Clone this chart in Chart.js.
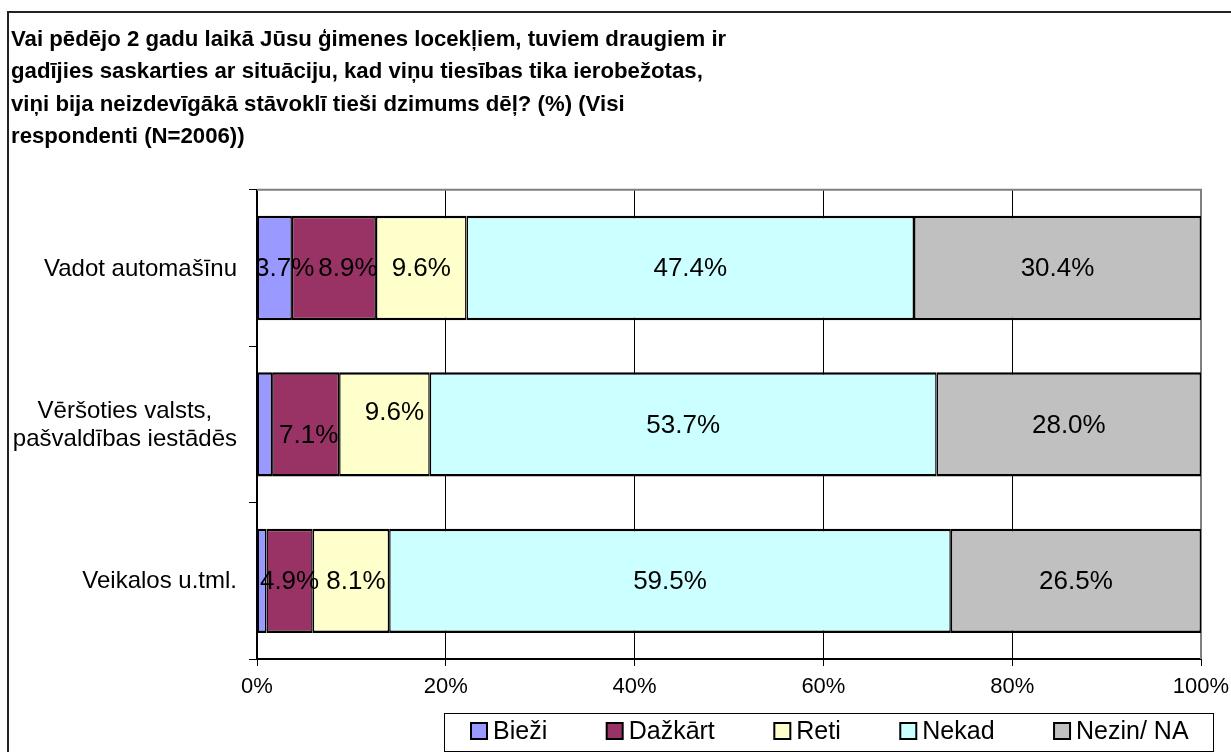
<!DOCTYPE html>
<html>
<head>
<meta charset="utf-8">
<script src="https://cdn.jsdelivr.net/npm/chart.js@4.4.1/dist/chart.umd.min.js"></script>
<style>
  html, body { margin: 0; padding: 0; background: #fff; }
  canvas { display: block; }
</style>
</head>
<body>
<canvas id="chart" width="1231" height="752"></canvas>
<script>
// Survey question (title lines)
const titleLines = [
  'Vai pēdējo 2 gadu laikā Jūsu ģimenes locekļiem, tuviem draugiem ir',
  'gadījies saskarties ar situāciju, kad viņu tiesības tika ierobežotas,',
  'viņi bija neizdevīgākā stāvoklī tieši dzimums dēļ? (%) (Visi',
  'respondenti (N=2006))'
];

// Situations (rows, top to bottom)
const categories = [
  ['Vadot automašīnu'],
  ['Vēršoties valsts,', 'pašvaldības iestādēs'],
  ['Veikalos u.tml.']
];

// Answer options
const seriesNames = ['Bieži', 'Dažkārt', 'Reti', 'Nekad', 'Nezin/ NA'];

// Shares, % of respondents
const biezi   = [3.7, 1.6, 1.0];
const dazkart = [8.9, 7.1, 4.9];
const reti    = [9.6, 9.6, 8.1];
const nekad   = [47.4, 53.7, 59.5];
const nezin   = [30.4, 28.0, 26.5];

// Value axis ticks
const xTickValues = [0, 20, 40, 60, 80, 100];
const xTickLabels = ['0%', '20%', '40%', '60%', '80%', '100%'];

const seriesColors = ['#9999FF', '#993366', '#FFFFCC', '#CCFFFF', '#C0C0C0'];
const seriesValues = [biezi, dazkart, reti, nekad, nezin];

const FONT = "'Liberation Sans', Arial, Helvetica, sans-serif";

// Segments narrower than this carry no value label
const MIN_LABEL_VALUE = 2;
// Small shifts that keep neighbouring labels apart: "dataset-row" -> [dx, dy]
const labelShift = {
  '0-0': [10, 0],
  '1-0': [14, 0],
  '1-1': [3, 10],
  '2-1': [10, -13],
  '2-2': [5, 0]
};

const frameAndBorders = {
  id: 'frameAndBorders',
  beforeDraw(chart) {
    const ctx = chart.ctx;
    ctx.save();
    ctx.fillStyle = '#fff';
    ctx.fillRect(0, 0, chart.width, chart.height);
    ctx.strokeStyle = '#222';
    ctx.lineWidth = 2;
    ctx.beginPath();
    ctx.moveTo(chart.width, 12);
    ctx.lineTo(8, 12);
    ctx.lineTo(8, chart.height);
    ctx.stroke();
    ctx.restore();
  },
  beforeDatasetsDraw(chart) {
    const { ctx, chartArea: a } = chart;
    ctx.save();
    ctx.strokeStyle = '#808080';
    ctx.lineWidth = 2;
    ctx.beginPath();
    ctx.moveTo(a.left, a.top);
    ctx.lineTo(a.right, a.top);
    ctx.lineTo(a.right, a.bottom);
    ctx.stroke();
    ctx.restore();
  }
};

const valueLabels = {
  id: 'valueLabels',
  afterDatasetsDraw(chart) {
    const { ctx, chartArea: a } = chart;
    ctx.save();
    ctx.beginPath();
    ctx.rect(a.left, a.top, a.right - a.left, a.bottom - a.top);
    ctx.clip();
    ctx.font = '26px ' + FONT;
    ctx.fillStyle = '#000';
    ctx.textAlign = 'center';
    ctx.textBaseline = 'middle';
    chart.data.datasets.forEach((ds, di) => {
      const meta = chart.getDatasetMeta(di);
      meta.data.forEach((bar, ri) => {
        const v = ds.data[ri];
        if (v < MIN_LABEL_VALUE) return;
        const sh = labelShift[di + '-' + ri] || [0, 0];
        const cx = (bar.x + bar.base) / 2 + sh[0];
        ctx.fillText(v.toFixed(1) + '%', cx, bar.y + sh[1] + 1);
      });
    });
    ctx.restore();
  }
};

const categoryLabels = {
  id: 'categoryLabels',
  afterDraw(chart) {
    const ctx = chart.ctx;
    const y = chart.scales.y;
    const rightEdge = y.right - 20;
    const lineGap = 28;
    ctx.save();
    ctx.font = '24px ' + FONT;
    ctx.fillStyle = '#000';
    ctx.textAlign = 'center';
    ctx.textBaseline = 'middle';
    categories.forEach((lines, i) => {
      const cy = y.getPixelForValue(i);
      const w = Math.max(...lines.map(l => ctx.measureText(l).width));
      const cx = rightEdge - w / 2;
      const y0 = cy - (lines.length - 1) * lineGap / 2;
      lines.forEach((l, k) => ctx.fillText(l, cx, y0 + k * lineGap + 1));
    });
    ctx.restore();
  }
};

const boxedLegend = {
  id: 'boxedLegend',
  afterDraw(chart) {
    const ctx = chart.ctx;
    const cy = 731;
    const sw = 16, textGap = 6, itemGap = 59.5;
    ctx.save();
    ctx.font = '25px ' + FONT;
    ctx.textBaseline = 'middle';
    ctx.textAlign = 'left';
    let x = 471;
    const items = chart.data.datasets.map(ds => {
      const w = ctx.measureText(ds.label).width;
      const it = { x, w, label: ds.label, color: ds.backgroundColor };
      x += sw + textGap + w + itemGap;
      return it;
    });
    const last = items[items.length - 1];
    const boxL = 444, boxR = Math.max(1213, last.x + sw + textGap + last.w + 8);
    ctx.fillStyle = '#fff';
    ctx.fillRect(boxL, 713, boxR - boxL, 38);
    ctx.strokeStyle = '#000';
    ctx.lineWidth = 1;
    ctx.strokeRect(boxL + 0.5, 713.5, boxR - boxL, 38);
    items.forEach(it => {
      ctx.fillStyle = it.color;
      ctx.fillRect(it.x, cy - sw / 2, sw, sw);
      ctx.strokeStyle = '#000';
      ctx.lineWidth = 2;
      ctx.strokeRect(it.x, cy - sw / 2, sw, sw);
      ctx.fillStyle = '#000';
      ctx.fillText(it.label, it.x + sw + textGap, cy + 1);
    });
    ctx.restore();
  }
};

new Chart(document.getElementById('chart'), {
  type: 'bar',
  data: {
    labels: categories.map(c => c.join(' ')),
    datasets: seriesNames.map((name, i) => ({
      label: name,
      data: seriesValues[i],
      backgroundColor: seriesColors[i],
      borderColor: '#000',
      borderWidth: { top: 2.5, bottom: 2.5, left: 1.5, right: 1.5 },
      borderSkipped: false,
      categoryPercentage: 1,
      barPercentage: 0.667
    }))
  },
  options: {
    indexAxis: 'y',
    responsive: false,
    animation: false,
    events: [],
    layout: { padding: { left: 11, right: 30, top: 0, bottom: 0 } },
    plugins: {
      legend: { display: false },
      tooltip: { enabled: false },
      title: {
        display: true,
        text: titleLines,
        align: 'start',
        color: '#000',
        font: { family: FONT, size: 22.2, weight: 'bold', lineHeight: 1.45 },
        padding: { top: 24, bottom: 37 }
      }
    },
    scales: {
      x: {
        stacked: true,
        min: 0,
        max: 100,
        afterBuildTicks(scale) {
          scale.ticks = xTickValues.map(v => ({ value: v }));
        },
        afterFit(scale) {
          scale.height = 93;
          scale.paddingLeft = 0;
          scale.paddingRight = 0;
        },
        ticks: {
          color: '#000',
          padding: 8,
          maxRotation: 0,
          font: { family: FONT, size: 22 },
          callback: (v) => xTickLabels[xTickValues.indexOf(v)]
        },
        grid: {
          color: (c) => (c.tick && c.tick.value === 100 ? '#808080' : '#000'),
          lineWidth: 1,
          drawTicks: true,
          tickLength: 7,
          tickColor: '#000'
        },
        border: { display: true, color: '#000', width: 2 }
      },
      y: {
        stacked: true,
        afterFit(scale) {
          scale.width = 246;
          scale.paddingTop = 0;
          scale.paddingBottom = 0;
        },
        ticks: { display: false },
        grid: {
          offset: true,
          drawOnChartArea: false,
          drawTicks: true,
          tickLength: 8,
          tickColor: '#000',
          lineWidth: 1
        },
        border: { display: true, color: '#000', width: 2 }
      }
    }
  },
  plugins: [frameAndBorders, valueLabels, categoryLabels, boxedLegend]
});
</script>
</body>
</html>
